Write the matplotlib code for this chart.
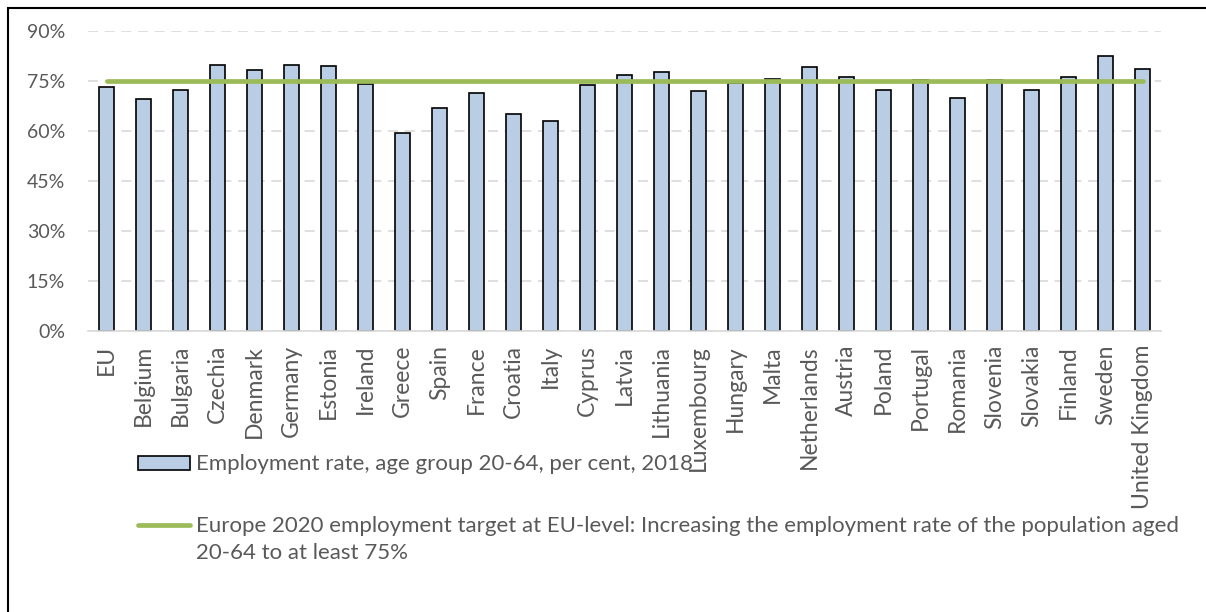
import matplotlib.pyplot as plt
from matplotlib.patches import Rectangle
from matplotlib.lines import Line2D
from matplotlib.ticker import FuncFormatter

countries = ["EU", "Belgium", "Bulgaria", "Czechia", "Denmark", "Germany", "Estonia",
             "Ireland", "Greece", "Spain", "France", "Croatia", "Italy", "Cyprus",
             "Latvia", "Lithuania", "Luxembourg", "Hungary", "Malta", "Netherlands",
             "Austria", "Poland", "Portugal", "Romania", "Slovenia", "Slovakia",
             "Finland", "Sweden", "United Kingdom"]
rate_2018 = [73.2, 69.7, 72.4, 79.9, 78.2, 79.9, 79.5, 74.1, 59.5, 67.0, 71.3, 65.2,
             63.0, 73.9, 76.8, 77.8, 72.1, 74.4, 75.5, 79.2, 76.2, 72.2, 75.4, 69.9,
             75.4, 72.4, 76.3, 82.6, 78.7]
target = 75
yticks = [0, 15, 30, 45, 60, 75, 90]

bar_label = "Employment rate, age group 20-64, per cent, 2018"
line_label = ["Europe 2020 employment target at EU-level: Increasing the employment rate of the population aged",
              "20-64 to at least 75%"]

plt.rcParams['font.family'] = ['Lato', 'DejaVu Sans']
grey = "#595959"
fs = 16

fig = plt.figure(figsize=(12.06, 6.12), dpi=100)
ax = fig.add_axes([88 / 1206, 1 - 331 / 612, 1073 / 1206, 300 / 612])

x = list(range(len(countries)))
ax.bar(x, rate_2018, width=0.4, color="#B9CDE5", edgecolor="black", linewidth=1.2, zorder=2)
ax.plot([x[0], x[-1]], [target, target], color="#9BBB59", lw=3.4,
        solid_capstyle="round", zorder=3)

ax.set_xlim(-0.5, len(countries) - 0.5)
ax.set_ylim(0, 90)
ax.set_yticks(yticks)
ax.yaxis.set_major_formatter(FuncFormatter(lambda v, p: f"{v:.0f}%"))
ax.grid(axis="y", color="#D9D9D9", linestyle=(0, (6, 4)), linewidth=1.2, zorder=0)
for s in ["top", "right", "left"]:
    ax.spines[s].set_visible(False)
ax.spines["bottom"].set_color("#D9D9D9")
ax.spines["bottom"].set_linewidth(1.2)
ax.set_xticks(x)
ax.set_xticklabels(countries, rotation=90)
ax.tick_params(axis="x", length=0, pad=10, labelsize=16.5, labelcolor=grey)
ax.tick_params(axis="y", length=0, pad=16.5, labelsize=14, labelcolor=grey)

# legend drawn by hand in figure pixels
def fx(px):
    return px / 1206

def fy(py):
    return 1 - py / 612

fig.patches.append(Rectangle((fx(138), fy(470)), fx(52), 14 / 612, transform=fig.transFigure,
                             facecolor="#B9CDE5", edgecolor="black", linewidth=1.2))
fig.text(fx(196), fy(470), bar_label, fontsize=fs, color=grey, va="baseline", ha="left")
fig.lines.append(Line2D([fx(138), fx(190)], [fy(525), fy(525)], transform=fig.transFigure,
                        color="#9BBB59", lw=3.4, solid_capstyle="round"))
fig.text(fx(196), fy(532), line_label[0], fontsize=fs, color=grey, va="baseline", ha="left")
fig.text(fx(196), fy(559), line_label[1], fontsize=fs, color=grey, va="baseline", ha="left")

# outer chart frame
fig.patches.append(Rectangle((fx(7.5), -0.1), 1.2, fy(8) + 0.1, transform=fig.transFigure,
                             facecolor="none", edgecolor="black", linewidth=1.5))

fig.savefig("out.png", dpi=100)
